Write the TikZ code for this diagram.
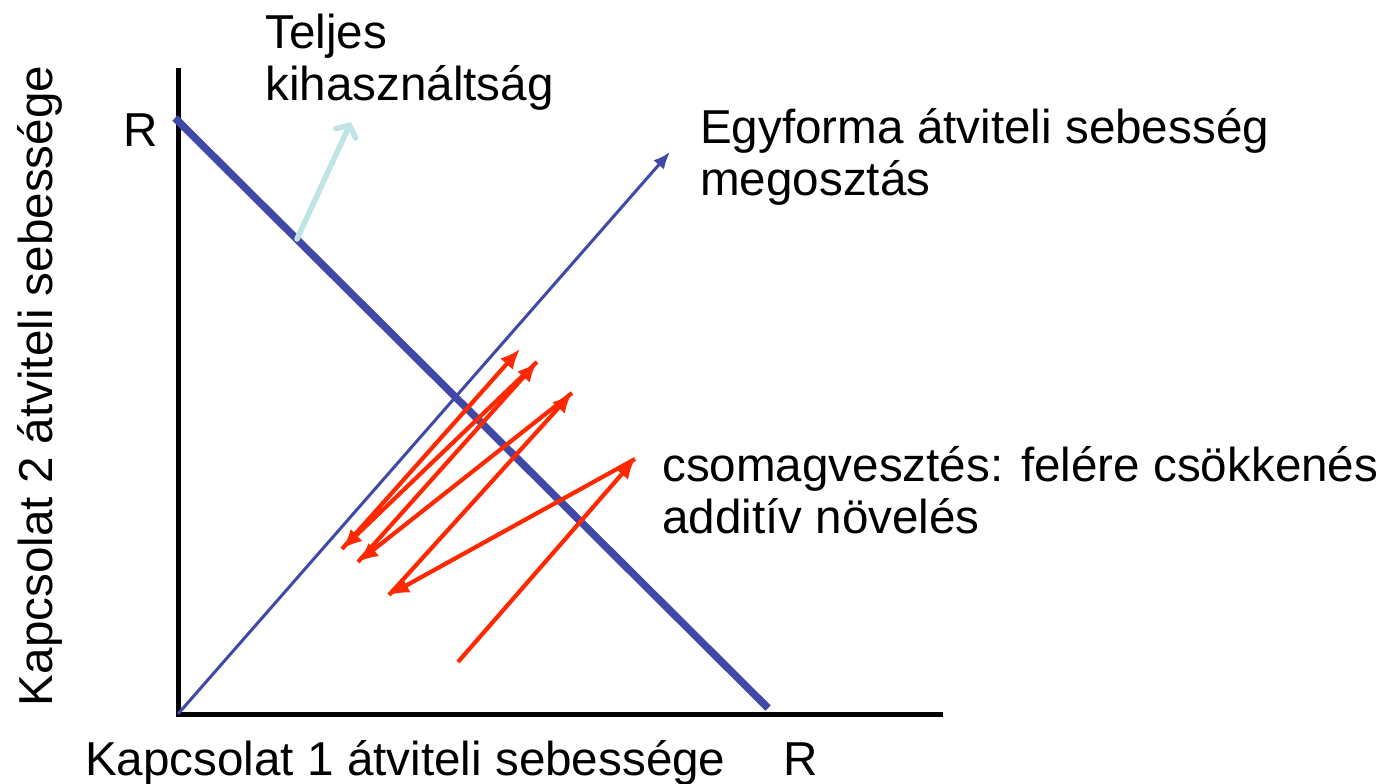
\documentclass[tikz,border=0pt]{standalone}
\usepackage{fontspec}
\setmainfont{Liberation Sans}
\usetikzlibrary{arrows.meta}

\definecolor{capblue}{RGB}{64,72,168}
\definecolor{lossred}{RGB}{255,40,0}
\definecolor{fullcyan}{RGB}{192,228,230}

\begin{document}
\begin{tikzpicture}[x=1pt, y=-1pt,
  % Line styles
  axis/.style={line width=5pt, draw=black},
  capline/.style={line width=7.5pt, draw=capblue},
  fairline/.style={line width=3pt, draw=capblue, -{Latex[length=17pt,width=14pt]}},
  fullarrow/.style={line width=5.5pt, draw=fullcyan, line cap=round,
    -{Straight Barb[length=9pt,width=22pt,line cap=round]}},
  aimd/.style={line width=4.2pt, draw=lossred, -{Latex[length=20pt,width=17pt]}},
  % Text style
  lbl/.style={font=\fontsize{47.6}{52}\selectfont, inner sep=0pt, align=left},
]
\useasboundingbox (0,0) rectangle (1387,784);

% Axes
\coordinate (ytop) at (178,68);
\coordinate (origin) at (178,714);
\coordinate (xend) at (943,714);
\draw[axis] (ytop) -- (origin) -- (xend);

% --- Capacity line and fair share line ---
\coordinate (Rtop) at (175,118);
\coordinate (Rbot) at (768,708);
\draw[capline] (Rtop) -- (Rbot);
\coordinate (fairtip) at (670,152);
\draw[fairline] (origin) -- (fairtip);

% --- Full utilisation arrow ---
\coordinate (fullfoot) at (297,239);
\coordinate (fulltip) at (351,122);
\draw[fullarrow] (fullfoot) -- (fulltip);

% --- AIMD trajectory ---
\coordinate (p0) at (458,662);
\coordinate (p1) at (635,459);
\coordinate (p2) at (389,595);
\coordinate (p3) at (572,393);
\coordinate (p4) at (358,562);
\coordinate (p5) at (537,362);
\coordinate (p6) at (342,549);
\coordinate (p7) at (520,349);
\foreach \a/\b in {p0/p1, p1/p2, p2/p3, p3/p4, p4/p5, p5/p6, p6/p7}
  \draw[aimd] (\a) -- (\b);

% Labels (base = last line)
\node[lbl, anchor=base west] (yR) at (123,146) {R};
\node[lbl, anchor=base west] (xR) at (783,775) {R};
\node[lbl, anchor=base west] (xlabel) at (85,775) {Kapcsolat 1 átviteli sebessége};
\node[lbl, anchor=base, rotate=90] (ylabel) at (52,386) {Kapcsolat 2 átviteli sebessége};
\node[lbl, anchor=base west] (fulllbl) at (265,100) {Teljes\\kihasználtság};
\node[lbl, anchor=base west] (fairlbl) at (700,195) {Egyforma átviteli sebesség\\megosztás};
\node[lbl, anchor=base west] (aimdlbl) at (662,533) {csomagvesztés: felére csökkenés\\additív növelés};

\end{tikzpicture}
\end{document}
